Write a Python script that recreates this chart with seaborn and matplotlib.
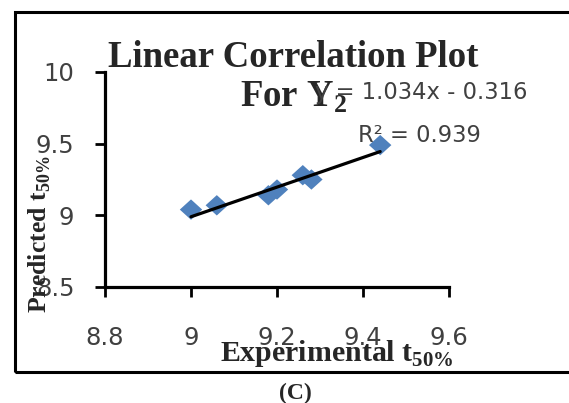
import matplotlib
matplotlib.use("Agg")
from matplotlib import pyplot as plt
from matplotlib.patches import Rectangle
import seaborn as sns
import numpy as np
import pandas as pd

# values
experimental = [9.00, 9.06, 9.18, 9.20, 9.26, 9.28, 9.44]
predicted = [9.04, 9.07, 9.14, 9.18, 9.28, 9.25, 9.49]
slope, intercept = 1.034, -0.316
r_squared = 0.939
x_ticks = [8.8, 9.0, 9.2, 9.4, 9.6]
x_tick_labels = ["8.8", "9", "9.2", "9.4", "9.6"]
y_ticks = [8.5, 9.0, 9.5, 10.0]
y_tick_labels = ["8.5", "9", "9.5", "10"]

sns.set_theme(style="white")
plt.rcParams["font.family"] = ["DejaVu Sans"]
plt.rcParams["mathtext.fontset"] = "custom"
plt.rcParams["mathtext.rm"] = "Liberation Serif"
plt.rcParams["mathtext.bf"] = "Liberation Serif:bold"

df = pd.DataFrame({"exp": experimental, "pred": predicted})
x_fit = np.array([min(experimental), max(experimental)])
fit = pd.DataFrame({"x": x_fit, "y": slope * x_fit + intercept})

# slightly wide diamond, like the stretched Excel marker
diamond = [(-1.1, 0), (0, 1), (1.1, 0), (0, -1), (-1.1, 0)]

fig = plt.figure(figsize=(5.69, 4.03), dpi=100)
ax = fig.add_axes([105/569, 1 - 287/403, 344/569, 215/403])

sns.lineplot(data=fit, x="x", y="y", color="black", linewidth=2.3, ax=ax, zorder=3)
sns.scatterplot(data=df, x="exp", y="pred", marker=diamond, s=260, color="#4F81BD",
                edgecolor="none", ax=ax, zorder=2)

ax.set_xlim(8.8, 9.6)
ax.set_ylim(8.5, 10)
ax.set_xticks(x_ticks)
ax.set_xticklabels(x_tick_labels)
ax.set_yticks(y_ticks)
ax.set_yticklabels(y_tick_labels)
ax.tick_params(axis="both", direction="out", length=7, width=2, color="black",
               labelsize=17.5, labelcolor="#404040", left=True, bottom=True)
ax.tick_params(axis="x", pad=21)
ax.tick_params(axis="y", pad=15)
for side in ["top", "right"]:
    ax.spines[side].set_visible(False)
for side in ["left", "bottom"]:
    ax.spines[side].set_linewidth(2.3)
    ax.spines[side].set_color("black")

ax.set_xlabel(r"Experimental t$_{\mathbf{50\%}}$", family="Liberation Serif",
              weight="bold", size=21.5)
ax.set_ylabel(r"Predicted t$_{\mathbf{50\%}}$", family="Liberation Serif",
              weight="bold", size=18.5)
ax.xaxis.label.set_va("top")
ax.xaxis.set_label_coords(0.674, -0.235)
ax.yaxis.set_label_coords(-0.15, 0.245)

# title, two lines
fig.text(293/569, 1 - 67/403, "Linear Correlation Plot", ha="center", va="baseline",
         family="Liberation Serif", weight="bold", size=26.5)
fig.text(294/569, 1 - 107/403, r"For Y$_{\mathbf{2}}$", ha="center", va="baseline",
         family="Liberation Serif", weight="bold", size=26.5)

# trendline label
fig.text(315/569, 1 - 99/403, f"y = {slope:.3f}x - {abs(intercept):.3f}", ha="left",
         va="baseline", size=16.3, color="#404040")
fig.text(358/569, 1 - 142/403, f"R² = {r_squared:.3f}", ha="left", va="baseline",
         size=16.3, color="#404040")

# outer frame and panel letter
fig.patches.append(Rectangle((15/569, 1 - 372/403), 600/569, 360/403, fill=False,
                             edgecolor="black", linewidth=2.2,
                             transform=fig.transFigure, figure=fig))
fig.text(295/569, 1 - 393/403, "(C)", ha="center", va="center",
         family="Liberation Serif", weight="bold", size=17)

fig.savefig("out.png", dpi=100, facecolor="white")
